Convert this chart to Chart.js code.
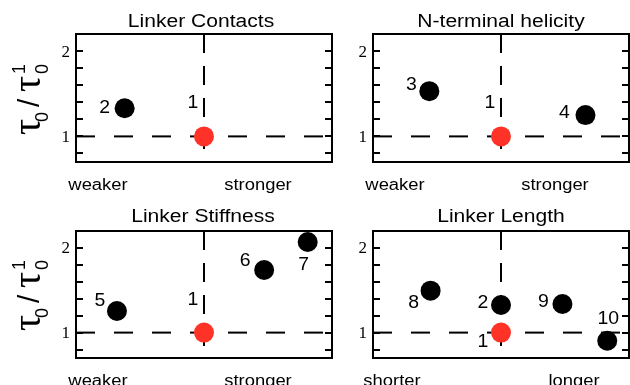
<!DOCTYPE html>
<html>
<head>
<meta charset="utf-8">
<script src="https://cdn.jsdelivr.net/npm/chart.js@4"></script>
<style>
  html, body { margin: 0; padding: 0; background: #fff; }
  #wrap { position: relative; width: 630px; height: 385px; }
  canvas { position: absolute; left: 0; top: 0; }
</style>
</head>
<body>
<div id="wrap">
  <canvas id="c1" width="630" height="385"></canvas>
  <canvas id="c2" width="630" height="385"></canvas>
  <canvas id="c3" width="630" height="385"></canvas>
  <canvas id="c4" width="630" height="385"></canvas>
</div>
<script>
// values
var contactsIds = ['1', '2'];
var contactsX = [0, -0.62];
var contactsY = [1, 1.33];

var helicityIds = ['1', '3', '4'];
var helicityX = [0, -0.56, 0.66];
var helicityY = [1, 1.53, 1.25];

var stiffnessIds = ['1', '5', '6', '7'];
var stiffnessX = [0, -0.68, 0.47, 0.81];
var stiffnessY = [1, 1.255, 1.74, 2.07];

var lengthIds = ['1', '8', '2', '9', '10'];
var lengthX = [0, -0.55, 0, 0.48, 0.83];
var lengthY = [1, 1.495, 1.326, 1.338, 0.904];

var yTicks = [0.8, 1, 1.2, 1.4, 1.6, 1.8, 2];
var yTickLabels = [1, 2];
var refX = 0, refY = 1;

// where each number sits relative to its dot (px)
var labelOffsets = {
  '1a': [-11, -33], '2a': [-20, 0],
  '3': [-18, -6], '4': [-21, -2],
  '5': [-17, -10], '6': [-19, -9], '7': [-4, 23],
  '8': [-17, 12], '2b': [-18, -2], '9': [-19, -2], '10': [1, -22], '1b': [-18, 9]
};

var RED = 'rgb(255, 50, 40)';
var W = 630, H = 385;
var SANS = '"Liberation Sans", Arial, sans-serif';
var SERIF = '"Liberation Serif", "Times New Roman", serif';

function offsetKey(id, panel) {
  if (panel == 4 && id == '1') return '1b';
  if (panel == 4 && id == '2') return '2b';
  if (id == '1') return '1a';
  if (id == '2') return '2a';
  return id;
}

// text a bit wider than Liberation Sans, like the original
function wideText(ctx, txt, x, y, sx) {
  ctx.save();
  ctx.translate(x, y);
  ctx.scale(sx, 1);
  ctx.fillText(txt, 0, 0);
  ctx.restore();
}

var panelPlugin = {
  id: 'panel',
  afterDraw: function (chart) {
    var o = chart.options.plugins.panel;
    var ctx = chart.ctx, a = chart.chartArea;
    var ys = chart.scales.y;
    ctx.save();
    // frame
    ctx.strokeStyle = '#000';
    ctx.lineWidth = 2;
    ctx.strokeRect(a.left, a.top, a.right - a.left, a.bottom - a.top);
    // inward ticks both sides
    yTicks.forEach(function (v) {
      var py = Math.round(ys.getPixelForValue(v));
      ctx.beginPath();
      ctx.moveTo(a.left, py); ctx.lineTo(a.left + 7, py);
      ctx.moveTo(a.right, py); ctx.lineTo(a.right - 7, py);
      ctx.stroke();
    });
    ctx.fillStyle = '#000';
    ctx.font = '17px ' + SERIF;
    ctx.textAlign = 'right';
    ctx.textBaseline = 'middle';
    yTickLabels.forEach(function (v) {
      ctx.fillText(String(v), a.left - 6, ys.getPixelForValue(v) + 1);
    });
    // title and bottom words
    var cx = (a.left + a.right) / 2;
    ctx.textAlign = 'center';
    ctx.textBaseline = 'alphabetic';
    ctx.font = '18px ' + SANS;
    wideText(ctx, o.title, cx + o.titleShift, a.top + o.titleDy, 1.17);
    ctx.font = '16px ' + SANS;
    wideText(ctx, o.leftWord, a.left + o.wordX[0], a.bottom + 28, 1.15);
    wideText(ctx, o.rightWord, a.left + o.wordX[1], a.bottom + 28, 1.15);
    // point numbers
    var meta = chart.getDatasetMeta(0);
    ctx.textBaseline = 'middle';
    ctx.font = '18px ' + SANS;
    meta.data.forEach(function (el, i) {
      var id = o.ids[i];
      var off = labelOffsets[offsetKey(id, o.panel)];
      wideText(ctx, id, el.x + off[0], el.y + off[1], 1.08);
    });
    // y axis title  tau_0 / tau_0^1
    if (o.yTitle) {
      ctx.translate(a.left - 36, a.bottom - 27);
      ctx.rotate(-Math.PI / 2);
      ctx.textAlign = 'left';
      ctx.textBaseline = 'alphabetic';
      var big = '40px ' + SERIF;
      var small = '18px ' + SANS;
      ctx.font = big; ctx.fillText('\u03c4', 0, 0);
      ctx.font = small; ctx.fillText('0', 13, 8);
      ctx.font = '30px ' + SANS; ctx.fillText('/', 28, -1);
      ctx.font = big; ctx.fillText('\u03c4', 43, 0);
      ctx.font = small; ctx.fillText('0', 61, 8); ctx.fillText('1', 61, -15);
    }
    ctx.restore();
  }
};

function makePanel(id, panel, area, ids, xs, ys, title, leftWord, rightWord, wordX, yTitle, titleShift, titleDy) {
  var pts = xs.map(function (x, i) { return { x: x, y: ys[i] }; });
  var colors = ids.map(function (k) { return k == '1' ? RED : '#000'; });
  new Chart(document.getElementById(id), {
    type: 'scatter',
    data: {
      datasets: [
        { data: pts, pointRadius: 10, pointHoverRadius: 10, pointBackgroundColor: colors,
          pointBorderWidth: 0, pointBorderColor: colors, order: 1, clip: false },
        { type: 'line', data: [{ x: -1, y: refY }, { x: 1, y: refY }], borderColor: '#000',
          borderWidth: 2, borderDash: [19, 19], pointRadius: 0, order: 2 },
        { type: 'line', data: [{ x: refX, y: 2.2 }, { x: refX, y: 0.7 }], borderColor: '#000',
          borderWidth: 2, borderDash: [19, 13], pointRadius: 0, order: 2 }
      ]
    },
    options: {
      responsive: false,
      animation: false,
      events: [],
      layout: {
        autoPadding: false,
        padding: { left: area[0], top: area[1], right: W - area[2], bottom: H - area[3] }
      },
      scales: {
        x: { type: 'linear', min: -1, max: 1, display: false },
        y: { type: 'linear', min: 0.7, max: 2.2, display: false }
      },
      plugins: {
        legend: { display: false },
        tooltip: { enabled: false },
        panel: { panel: panel, ids: ids, title: title, leftWord: leftWord, rightWord: rightWord,
                 wordX: wordX, yTitle: yTitle, titleShift: titleShift, titleDy: titleDy }
      }
    },
    plugins: [panelPlugin]
  });
}

makePanel('c1', 1, [76, 34, 332, 162], contactsIds, contactsX, contactsY,
  'Linker Contacts', 'weaker', 'stronger', [22, 182], true, -3, -7);
makePanel('c2', 2, [373, 34, 629, 162], helicityIds, helicityX, helicityY,
  'N-terminal helicity', 'weaker', 'stronger', [22, 182], false, 0, -7);
makePanel('c3', 3, [76, 231, 332, 358], stiffnessIds, stiffnessX, stiffnessY,
  'Linker Stiffness', 'weaker', 'stronger', [22, 182], true, -1, -9);
makePanel('c4', 4, [373, 231, 629, 358], lengthIds, lengthX, lengthY,
  'Linker Length', 'shorter', 'longer', [19, 201], false, 0, -9);
</script>
</body>
</html>
